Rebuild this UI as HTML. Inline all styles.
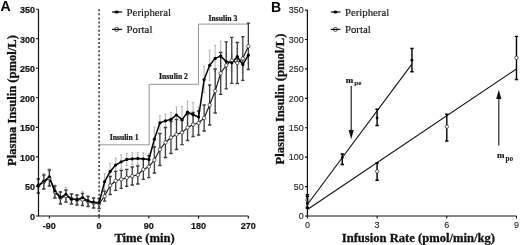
<!DOCTYPE html>
<html><head><meta charset="utf-8"><style>
html,body{margin:0;padding:0;background:#fff;}
body{width:520px;height:245px;overflow:hidden;font-family:"Liberation Sans",sans-serif;}
svg{display:block;will-change:transform;}
</style></head><body>
<svg width="520" height="245" viewBox="0 0 520 245">
<rect width="520" height="245" fill="#fff"/>
<polyline points="99.1,144.8 149.2,144.8 149.2,84.3 198.5,84.3 198.5,24.1 248,24.1" fill="none" stroke="#8a8a8a" stroke-width="0.9"/>
<line x1="99.1" y1="9.2" x2="99.1" y2="216" stroke="#111" stroke-width="1.3" stroke-dasharray="2 2.1"/>
<path d="M38.29 178.4V192.4M37.29 178.4H39.29M37.29 192.4H39.29" stroke="#a8a8a8" stroke-width="0.9" fill="none"/>
<path d="M43.82 173.3V189.3M42.82 173.3H44.82M42.82 189.3H44.82" stroke="#a8a8a8" stroke-width="0.9" fill="none"/>
<path d="M49.35 168.8V184.8M48.35 168.8H50.35M48.35 184.8H50.35" stroke="#a8a8a8" stroke-width="0.9" fill="none"/>
<path d="M54.88 185V197M53.88 185H55.88M53.88 197H55.88" stroke="#a8a8a8" stroke-width="0.9" fill="none"/>
<path d="M60.41 191.3V203.3M59.41 191.3H61.41M59.41 203.3H61.41" stroke="#a8a8a8" stroke-width="0.9" fill="none"/>
<path d="M65.93 187.3V201.3M64.93 187.3H66.93M64.93 201.3H66.93" stroke="#a8a8a8" stroke-width="0.9" fill="none"/>
<path d="M71.46 193.9V203.9M70.46 193.9H72.46M70.46 203.9H72.46" stroke="#a8a8a8" stroke-width="0.9" fill="none"/>
<path d="M76.99 194.6V204.6M75.99 194.6H77.99M75.99 204.6H77.99" stroke="#a8a8a8" stroke-width="0.9" fill="none"/>
<path d="M82.52 191.6V203.6M81.52 191.6H83.52M81.52 203.6H83.52" stroke="#a8a8a8" stroke-width="0.9" fill="none"/>
<path d="M88.04 195.9V205.9M87.04 195.9H89.04M87.04 205.9H89.04" stroke="#a8a8a8" stroke-width="0.9" fill="none"/>
<path d="M93.57 197.2V207.2M92.57 197.2H94.57M92.57 207.2H94.57" stroke="#a8a8a8" stroke-width="0.9" fill="none"/>
<path d="M99.1 197.8V207.8M98.1 197.8H100.1M98.1 207.8H100.1" stroke="#a8a8a8" stroke-width="0.9" fill="none"/>
<path d="M104.63 173.7V189.7M103.63 173.7H105.63M103.63 189.7H105.63" stroke="#a8a8a8" stroke-width="0.9" fill="none"/>
<path d="M110.16 163.4V179.4M109.16 163.4H111.16M109.16 179.4H111.16" stroke="#a8a8a8" stroke-width="0.9" fill="none"/>
<path d="M115.68 158V172M114.68 158H116.68M114.68 172H116.68" stroke="#a8a8a8" stroke-width="0.9" fill="none"/>
<path d="M121.21 154.8V168.8M120.21 154.8H122.21M120.21 168.8H122.21" stroke="#a8a8a8" stroke-width="0.9" fill="none"/>
<path d="M126.74 153.4V165.4M125.74 153.4H127.74M125.74 165.4H127.74" stroke="#a8a8a8" stroke-width="0.9" fill="none"/>
<path d="M132.27 152.8V164.8M131.27 152.8H133.27M131.27 164.8H133.27" stroke="#a8a8a8" stroke-width="0.9" fill="none"/>
<path d="M137.79 152.4V164.4M136.79 152.4H138.79M136.79 164.4H138.79" stroke="#a8a8a8" stroke-width="0.9" fill="none"/>
<path d="M143.32 152.8V164.8M142.32 152.8H144.32M142.32 164.8H144.32" stroke="#a8a8a8" stroke-width="0.9" fill="none"/>
<path d="M148.85 153.4V165.4M147.85 153.4H149.85M147.85 165.4H149.85" stroke="#a8a8a8" stroke-width="0.9" fill="none"/>
<path d="M154.38 127.2V151.2M153.38 127.2H155.38M153.38 151.2H155.38" stroke="#a8a8a8" stroke-width="0.9" fill="none"/>
<path d="M159.91 115.8V129.8M158.91 115.8H160.91M158.91 129.8H160.91" stroke="#a8a8a8" stroke-width="0.9" fill="none"/>
<path d="M165.43 113.9V127.9M164.43 113.9H166.43M164.43 127.9H166.43" stroke="#a8a8a8" stroke-width="0.9" fill="none"/>
<path d="M170.96 112.3V126.3M169.96 112.3H171.96M169.96 126.3H171.96" stroke="#a8a8a8" stroke-width="0.9" fill="none"/>
<path d="M176.49 107V123M175.49 107H177.49M175.49 123H177.49" stroke="#a8a8a8" stroke-width="0.9" fill="none"/>
<path d="M182.02 106.6V132.6M181.02 106.6H183.02M181.02 132.6H183.02" stroke="#a8a8a8" stroke-width="0.9" fill="none"/>
<path d="M187.54 101.2V123.2M186.54 101.2H188.54M186.54 123.2H188.54" stroke="#a8a8a8" stroke-width="0.9" fill="none"/>
<path d="M193.07 102.7V126.7M192.07 102.7H194.07M192.07 126.7H194.07" stroke="#a8a8a8" stroke-width="0.9" fill="none"/>
<path d="M198.6 107V127M197.6 107H199.6M197.6 127H199.6" stroke="#a8a8a8" stroke-width="0.9" fill="none"/>
<path d="M204.13 66.6V92.6M203.13 66.6H205.13M203.13 92.6H205.13" stroke="#a8a8a8" stroke-width="0.9" fill="none"/>
<path d="M209.66 50.3V80.3M208.66 50.3H210.66M208.66 80.3H210.66" stroke="#a8a8a8" stroke-width="0.9" fill="none"/>
<path d="M215.18 45.4V71.4M214.18 45.4H216.18M214.18 71.4H216.18" stroke="#a8a8a8" stroke-width="0.9" fill="none"/>
<path d="M220.71 41.1V71.1M219.71 41.1H221.71M219.71 71.1H221.71" stroke="#a8a8a8" stroke-width="0.9" fill="none"/>
<path d="M226.24 53.6V69.6M225.24 53.6H227.24M225.24 69.6H227.24" stroke="#a8a8a8" stroke-width="0.9" fill="none"/>
<path d="M231.77 54.8V70.8M230.77 54.8H232.77M230.77 70.8H232.77" stroke="#a8a8a8" stroke-width="0.9" fill="none"/>
<path d="M237.29 48.7V64.7M236.29 48.7H238.29M236.29 64.7H238.29" stroke="#a8a8a8" stroke-width="0.9" fill="none"/>
<path d="M242.82 56.6V72.6M241.82 56.6H243.82M241.82 72.6H243.82" stroke="#a8a8a8" stroke-width="0.9" fill="none"/>
<path d="M248.35 47.2V63.2M247.35 47.2H249.35M247.35 63.2H249.35" stroke="#a8a8a8" stroke-width="0.9" fill="none"/>
<path d="M38.29 179V193M36.59 179H39.99M36.59 193H39.99" stroke="#3c3c3c" stroke-width="1.3" fill="none"/>
<path d="M43.82 175V189M42.12 175H45.52M42.12 189H45.52" stroke="#3c3c3c" stroke-width="1.3" fill="none"/>
<path d="M49.35 170V186M47.65 170H51.05M47.65 186H51.05" stroke="#3c3c3c" stroke-width="1.3" fill="none"/>
<path d="M54.88 186V198M53.18 186H56.58M53.18 198H56.58" stroke="#3c3c3c" stroke-width="1.3" fill="none"/>
<path d="M60.41 192V204M58.71 192H62.11M58.71 204H62.11" stroke="#3c3c3c" stroke-width="1.3" fill="none"/>
<path d="M65.93 190V202M64.23 190H67.63M64.23 202H67.63" stroke="#3c3c3c" stroke-width="1.3" fill="none"/>
<path d="M71.46 194V204M69.76 194H73.16M69.76 204H73.16" stroke="#3c3c3c" stroke-width="1.3" fill="none"/>
<path d="M76.99 195V205M75.29 195H78.69M75.29 205H78.69" stroke="#3c3c3c" stroke-width="1.3" fill="none"/>
<path d="M82.52 193.5V205.5M80.82 193.5H84.22M80.82 205.5H84.22" stroke="#3c3c3c" stroke-width="1.3" fill="none"/>
<path d="M88.04 196.5V206.5M86.34 196.5H89.74M86.34 206.5H89.74" stroke="#3c3c3c" stroke-width="1.3" fill="none"/>
<path d="M93.57 198V208M91.87 198H95.27M91.87 208H95.27" stroke="#3c3c3c" stroke-width="1.3" fill="none"/>
<path d="M99.1 198.5V208.5M97.4 198.5H100.8M97.4 208.5H100.8" stroke="#3c3c3c" stroke-width="1.3" fill="none"/>
<path d="M104.63 191.2V201.2M102.93 191.2H106.33M102.93 201.2H106.33" stroke="#3c3c3c" stroke-width="1.3" fill="none"/>
<path d="M110.16 176.5V194.5M108.46 176.5H111.86M108.46 194.5H111.86" stroke="#3c3c3c" stroke-width="1.3" fill="none"/>
<path d="M115.68 171.3V190.3M113.98 171.3H117.38M113.98 190.3H117.38" stroke="#3c3c3c" stroke-width="1.3" fill="none"/>
<path d="M121.21 170.3V188.3M119.51 170.3H122.91M119.51 188.3H122.91" stroke="#3c3c3c" stroke-width="1.3" fill="none"/>
<path d="M126.74 169.3V186.3M125.04 169.3H128.44M125.04 186.3H128.44" stroke="#3c3c3c" stroke-width="1.3" fill="none"/>
<path d="M132.27 167V185M130.57 167H133.97M130.57 185H133.97" stroke="#3c3c3c" stroke-width="1.3" fill="none"/>
<path d="M137.79 166V184M136.09 166H139.49M136.09 184H139.49" stroke="#3c3c3c" stroke-width="1.3" fill="none"/>
<path d="M143.32 159.4V179.4M141.62 159.4H145.02M141.62 179.4H145.02" stroke="#3c3c3c" stroke-width="1.3" fill="none"/>
<path d="M148.85 155.7V177.7M147.15 155.7H150.55M147.15 177.7H150.55" stroke="#3c3c3c" stroke-width="1.3" fill="none"/>
<path d="M154.38 147V173M152.68 147H156.08M152.68 173H156.08" stroke="#3c3c3c" stroke-width="1.3" fill="none"/>
<path d="M159.91 133.5V165.5M158.21 133.5H161.61M158.21 165.5H161.61" stroke="#3c3c3c" stroke-width="1.3" fill="none"/>
<path d="M165.43 127.5V157.5M163.73 127.5H167.13M163.73 157.5H167.13" stroke="#3c3c3c" stroke-width="1.3" fill="none"/>
<path d="M170.96 121.5V153.5M169.26 121.5H172.66M169.26 153.5H172.66" stroke="#3c3c3c" stroke-width="1.3" fill="none"/>
<path d="M176.49 119.5V149.5M174.79 119.5H178.19M174.79 149.5H178.19" stroke="#3c3c3c" stroke-width="1.3" fill="none"/>
<path d="M182.02 120.6V144.6M180.32 120.6H183.72M180.32 144.6H183.72" stroke="#3c3c3c" stroke-width="1.3" fill="none"/>
<path d="M187.54 114.5V140.5M185.84 114.5H189.24M185.84 140.5H189.24" stroke="#3c3c3c" stroke-width="1.3" fill="none"/>
<path d="M193.07 112.5V136.5M191.37 112.5H194.77M191.37 136.5H194.77" stroke="#3c3c3c" stroke-width="1.3" fill="none"/>
<path d="M198.6 111V135M196.9 111H200.3M196.9 135H200.3" stroke="#3c3c3c" stroke-width="1.3" fill="none"/>
<path d="M204.13 105V131M202.43 105H205.83M202.43 131H205.83" stroke="#3c3c3c" stroke-width="1.3" fill="none"/>
<path d="M209.66 85V125M207.96 85H211.36M207.96 125H211.36" stroke="#3c3c3c" stroke-width="1.3" fill="none"/>
<path d="M215.18 69V113M213.48 69H216.88M213.48 113H216.88" stroke="#3c3c3c" stroke-width="1.3" fill="none"/>
<path d="M220.71 52.3V94.3M219.01 52.3H222.41M219.01 94.3H222.41" stroke="#3c3c3c" stroke-width="1.3" fill="none"/>
<path d="M226.24 41.8V88.8M224.54 41.8H227.94M224.54 88.8H227.94" stroke="#3c3c3c" stroke-width="1.3" fill="none"/>
<path d="M231.77 37.4V83.4M230.07 37.4H233.47M230.07 83.4H233.47" stroke="#3c3c3c" stroke-width="1.3" fill="none"/>
<path d="M237.29 42.5V83.5M235.59 42.5H238.99M235.59 83.5H238.99" stroke="#3c3c3c" stroke-width="1.3" fill="none"/>
<path d="M242.82 36.7V80.3M241.12 36.7H244.52M241.12 80.3H244.52" stroke="#3c3c3c" stroke-width="1.3" fill="none"/>
<path d="M248.35 23.1V69.5M246.65 23.1H250.05M246.65 69.5H250.05" stroke="#3c3c3c" stroke-width="1.3" fill="none"/>
<polyline points="38.29,186 43.82,182 49.35,178 54.88,192 60.41,198 65.93,196 71.46,199 76.99,200 82.52,199.5 88.04,201.5 93.57,203 99.1,203.5 104.63,196.2 110.16,185.5 115.68,180.8 121.21,179.3 126.74,177.8 132.27,176 137.79,175 143.32,169.4 148.85,166.7 154.38,160 159.91,149.5 165.43,142.5 170.96,137.5 176.49,134.5 182.02,132.6 187.54,127.5 193.07,124.5 198.6,123 204.13,118 209.66,105 215.18,91 220.71,73.3 226.24,65.3 231.77,60.4 237.29,63 242.82,58.5 248.35,46.3" fill="none" stroke="#111" stroke-width="1.1"/>
<polyline points="38.29,185.4 43.82,181.3 49.35,176.8 54.88,191 60.41,197.3 65.93,194.3 71.46,198.9 76.99,199.6 82.52,197.6 88.04,200.9 93.57,202.2 99.1,202.8 104.63,181.7 110.16,171.4 115.68,165 121.21,161.8 126.74,159.4 132.27,158.8 137.79,158.4 143.32,158.8 148.85,159.4 154.38,139.2 159.91,122.8 165.43,120.9 170.96,119.3 176.49,115 182.02,119.6 187.54,112.2 193.07,114.7 198.6,117 204.13,79.6 209.66,65.3 215.18,58.4 220.71,56.1 226.24,61.6 231.77,62.8 237.29,56.7 242.82,64.6 248.35,55.2" fill="none" stroke="#000" stroke-width="1.5"/>
<circle cx="38.29" cy="186" r="1.7" fill="#fff" stroke="#222" stroke-width="0.7"/>
<circle cx="43.82" cy="182" r="1.7" fill="#fff" stroke="#222" stroke-width="0.7"/>
<circle cx="49.35" cy="178" r="1.7" fill="#fff" stroke="#222" stroke-width="0.7"/>
<circle cx="54.88" cy="192" r="1.7" fill="#fff" stroke="#222" stroke-width="0.7"/>
<circle cx="60.41" cy="198" r="1.7" fill="#fff" stroke="#222" stroke-width="0.7"/>
<circle cx="65.93" cy="196" r="1.7" fill="#fff" stroke="#222" stroke-width="0.7"/>
<circle cx="71.46" cy="199" r="1.7" fill="#fff" stroke="#222" stroke-width="0.7"/>
<circle cx="76.99" cy="200" r="1.7" fill="#fff" stroke="#222" stroke-width="0.7"/>
<circle cx="82.52" cy="199.5" r="1.7" fill="#fff" stroke="#222" stroke-width="0.7"/>
<circle cx="88.04" cy="201.5" r="1.7" fill="#fff" stroke="#222" stroke-width="0.7"/>
<circle cx="93.57" cy="203" r="1.7" fill="#fff" stroke="#222" stroke-width="0.7"/>
<circle cx="99.1" cy="203.5" r="1.7" fill="#fff" stroke="#222" stroke-width="0.7"/>
<circle cx="104.63" cy="196.2" r="1.7" fill="#fff" stroke="#222" stroke-width="0.7"/>
<circle cx="110.16" cy="185.5" r="1.7" fill="#fff" stroke="#222" stroke-width="0.7"/>
<circle cx="115.68" cy="180.8" r="1.7" fill="#fff" stroke="#222" stroke-width="0.7"/>
<circle cx="121.21" cy="179.3" r="1.7" fill="#fff" stroke="#222" stroke-width="0.7"/>
<circle cx="126.74" cy="177.8" r="1.7" fill="#fff" stroke="#222" stroke-width="0.7"/>
<circle cx="132.27" cy="176" r="1.7" fill="#fff" stroke="#222" stroke-width="0.7"/>
<circle cx="137.79" cy="175" r="1.7" fill="#fff" stroke="#222" stroke-width="0.7"/>
<circle cx="143.32" cy="169.4" r="1.7" fill="#fff" stroke="#222" stroke-width="0.7"/>
<circle cx="148.85" cy="166.7" r="1.7" fill="#fff" stroke="#222" stroke-width="0.7"/>
<circle cx="154.38" cy="160" r="1.7" fill="#fff" stroke="#222" stroke-width="0.7"/>
<circle cx="159.91" cy="149.5" r="1.7" fill="#fff" stroke="#222" stroke-width="0.7"/>
<circle cx="165.43" cy="142.5" r="1.7" fill="#fff" stroke="#222" stroke-width="0.7"/>
<circle cx="170.96" cy="137.5" r="1.7" fill="#fff" stroke="#222" stroke-width="0.7"/>
<circle cx="176.49" cy="134.5" r="1.7" fill="#fff" stroke="#222" stroke-width="0.7"/>
<circle cx="182.02" cy="132.6" r="1.7" fill="#fff" stroke="#222" stroke-width="0.7"/>
<circle cx="187.54" cy="127.5" r="1.7" fill="#fff" stroke="#222" stroke-width="0.7"/>
<circle cx="193.07" cy="124.5" r="1.7" fill="#fff" stroke="#222" stroke-width="0.7"/>
<circle cx="198.6" cy="123" r="1.7" fill="#fff" stroke="#222" stroke-width="0.7"/>
<circle cx="204.13" cy="118" r="1.7" fill="#fff" stroke="#222" stroke-width="0.7"/>
<circle cx="209.66" cy="105" r="1.7" fill="#fff" stroke="#222" stroke-width="0.7"/>
<circle cx="215.18" cy="91" r="1.7" fill="#fff" stroke="#222" stroke-width="0.7"/>
<circle cx="220.71" cy="73.3" r="1.7" fill="#fff" stroke="#222" stroke-width="0.7"/>
<circle cx="226.24" cy="65.3" r="1.7" fill="#fff" stroke="#222" stroke-width="0.7"/>
<circle cx="231.77" cy="60.4" r="1.7" fill="#fff" stroke="#222" stroke-width="0.7"/>
<circle cx="237.29" cy="63" r="1.7" fill="#fff" stroke="#222" stroke-width="0.7"/>
<circle cx="242.82" cy="58.5" r="1.7" fill="#fff" stroke="#222" stroke-width="0.7"/>
<circle cx="248.35" cy="46.3" r="1.7" fill="#fff" stroke="#222" stroke-width="0.7"/>
<circle cx="38.29" cy="185.4" r="1.6" fill="#000"/>
<circle cx="43.82" cy="181.3" r="1.6" fill="#000"/>
<circle cx="49.35" cy="176.8" r="1.6" fill="#000"/>
<circle cx="54.88" cy="191" r="1.6" fill="#000"/>
<circle cx="60.41" cy="197.3" r="1.6" fill="#000"/>
<circle cx="65.93" cy="194.3" r="1.6" fill="#000"/>
<circle cx="71.46" cy="198.9" r="1.6" fill="#000"/>
<circle cx="76.99" cy="199.6" r="1.6" fill="#000"/>
<circle cx="82.52" cy="197.6" r="1.6" fill="#000"/>
<circle cx="88.04" cy="200.9" r="1.6" fill="#000"/>
<circle cx="93.57" cy="202.2" r="1.6" fill="#000"/>
<circle cx="99.1" cy="202.8" r="1.6" fill="#000"/>
<circle cx="104.63" cy="181.7" r="1.6" fill="#000"/>
<circle cx="110.16" cy="171.4" r="1.6" fill="#000"/>
<circle cx="115.68" cy="165" r="1.6" fill="#000"/>
<circle cx="121.21" cy="161.8" r="1.6" fill="#000"/>
<circle cx="126.74" cy="159.4" r="1.6" fill="#000"/>
<circle cx="132.27" cy="158.8" r="1.6" fill="#000"/>
<circle cx="137.79" cy="158.4" r="1.6" fill="#000"/>
<circle cx="143.32" cy="158.8" r="1.6" fill="#000"/>
<circle cx="148.85" cy="159.4" r="1.6" fill="#000"/>
<circle cx="154.38" cy="139.2" r="1.6" fill="#000"/>
<circle cx="159.91" cy="122.8" r="1.6" fill="#000"/>
<circle cx="165.43" cy="120.9" r="1.6" fill="#000"/>
<circle cx="170.96" cy="119.3" r="1.6" fill="#000"/>
<circle cx="176.49" cy="115" r="1.6" fill="#000"/>
<circle cx="182.02" cy="119.6" r="1.6" fill="#000"/>
<circle cx="187.54" cy="112.2" r="1.6" fill="#000"/>
<circle cx="193.07" cy="114.7" r="1.6" fill="#000"/>
<circle cx="198.6" cy="117" r="1.6" fill="#000"/>
<circle cx="204.13" cy="79.6" r="1.6" fill="#000"/>
<circle cx="209.66" cy="65.3" r="1.6" fill="#000"/>
<circle cx="215.18" cy="58.4" r="1.6" fill="#000"/>
<circle cx="220.71" cy="56.1" r="1.6" fill="#000"/>
<circle cx="226.24" cy="61.6" r="1.6" fill="#000"/>
<circle cx="231.77" cy="62.8" r="1.6" fill="#000"/>
<circle cx="237.29" cy="56.7" r="1.6" fill="#000"/>
<circle cx="242.82" cy="64.6" r="1.6" fill="#000"/>
<circle cx="248.35" cy="55.2" r="1.6" fill="#000"/>
<path d="M38.5 9.2V216H248.4" fill="none" stroke="#111" stroke-width="1.2"/>
<path d="M36 216H38.5M36 186.46H38.5M36 156.91H38.5M36 127.37H38.5M36 97.82H38.5M36 68.28H38.5M36 38.73H38.5M36 9.19H38.5M49.35 216V218.6M99.1 216V218.6M148.85 216V218.6M198.6 216V218.6M248.35 216V218.6" stroke="#111" stroke-width="1.1" fill="none"/>
<g font-family="Liberation Sans, sans-serif" font-weight="bold" font-size="9" fill="#111" stroke="#111" stroke-width="0.2">
<text x="35" y="219.8" text-anchor="end">0</text>
<text x="35" y="190.26" text-anchor="end">50</text>
<text x="35" y="160.71" text-anchor="end">100</text>
<text x="35" y="131.17" text-anchor="end">150</text>
<text x="35" y="101.62" text-anchor="end">200</text>
<text x="35" y="72.08" text-anchor="end">250</text>
<text x="35" y="42.53" text-anchor="end">300</text>
<text x="35" y="12.99" text-anchor="end">350</text>
<text x="49.35" y="228.9" text-anchor="middle">-90</text>
<text x="99.1" y="228.9" text-anchor="middle">0</text>
<text x="148.85" y="228.9" text-anchor="middle">90</text>
<text x="198.6" y="228.9" text-anchor="middle">180</text>
<text x="248.35" y="228.9" text-anchor="middle">270</text>
</g>
<text x="0.4" y="11" font-family="Liberation Sans, sans-serif" font-weight="bold" font-size="14" fill="#000">A</text>
<line x1="112" y1="12" x2="122.2" y2="12" stroke="#111" stroke-width="1.2"/><ellipse cx="116.6" cy="12" rx="2.2" ry="1.6" fill="#000"/>
<line x1="112" y1="29.4" x2="122.2" y2="29.4" stroke="#111" stroke-width="1.2"/><circle cx="116.6" cy="29.4" r="2" fill="none" stroke="#222" stroke-width="0.8"/>
<g font-family="Liberation Serif, serif" font-size="10.8" fill="#111" stroke="#111" stroke-width="0.15">
<text x="126.6" y="15.7">Peripheral</text><text x="126.6" y="32.6">Portal</text>
</g>
<g font-family="Liberation Serif, serif" font-weight="bold" font-size="7.7" fill="#111" stroke="#111" stroke-width="0.2">
<text x="109.7" y="140">Insulin 1</text><text x="159.1" y="78.8">Insulin 2</text><text x="208.5" y="21.4">Insulin 3</text>
</g>
<g font-family="Liberation Serif, serif" font-weight="bold" font-size="12.6" fill="#111" stroke="#111" stroke-width="0.3">
<text x="144.6" y="241.6" text-anchor="middle">Time (min)</text>
<text transform="translate(15.6 100.5) rotate(-90)" text-anchor="middle">Plasma Insulin (pmol/L)</text>
<text x="418.4" y="241.6" text-anchor="middle">Infusion Rate (pmol/min/kg)</text>
<text transform="translate(284.2 99) rotate(-90)" text-anchor="middle">Plasma Insulin (pmol/L)</text>
</g>
<text x="270.9" y="11.6" font-family="Liberation Sans, sans-serif" font-weight="bold" font-size="14" fill="#000">B</text>
<line x1="307.4" y1="204.5" x2="411.5" y2="64.6" stroke="#111" stroke-width="1.1"/>
<line x1="307.4" y1="209.5" x2="516.7" y2="68.8" stroke="#111" stroke-width="1.1"/>
<path d="M307.4 196.5V207.5M305.7 196.5H309.1M305.7 207.5H309.1" stroke="#000" stroke-width="1.4" fill="none"/>
<path d="M342.25 154V164.5M340.55 154H343.94M340.55 164.5H343.94" stroke="#000" stroke-width="1.4" fill="none"/>
<path d="M377.09 109.2V125.5M375.39 109.2H378.79M375.39 125.5H378.79" stroke="#000" stroke-width="1.4" fill="none"/>
<path d="M411.93 48.5V71.8M410.23 48.5H413.63M410.23 71.8H413.63" stroke="#000" stroke-width="1.4" fill="none"/>
<path d="M307.4 194.8V208.4M305.7 194.8H309.1M305.7 208.4H309.1" stroke="#000" stroke-width="1.4" fill="none"/>
<path d="M377.09 163V180.2M375.39 163H378.79M375.39 180.2H378.79" stroke="#000" stroke-width="1.4" fill="none"/>
<path d="M446.78 114.2V141M445.08 114.2H448.48M445.08 141H448.48" stroke="#000" stroke-width="1.4" fill="none"/>
<path d="M516.47 36.4V79.5M514.77 36.4H518.17M514.77 79.5H518.17" stroke="#000" stroke-width="1.4" fill="none"/>
<circle cx="307.4" cy="200" r="1.7" fill="#fff" stroke="#222" stroke-width="0.7"/>
<circle cx="377.09" cy="171.4" r="1.7" fill="#fff" stroke="#222" stroke-width="0.7"/>
<circle cx="446.78" cy="126.7" r="1.7" fill="#fff" stroke="#222" stroke-width="0.7"/>
<circle cx="516.47" cy="57.8" r="1.7" fill="#fff" stroke="#222" stroke-width="0.7"/>
<circle cx="307.4" cy="203.5" r="1.4" fill="#000"/>
<circle cx="342.25" cy="157.6" r="1.4" fill="#000"/>
<circle cx="377.09" cy="118" r="1.4" fill="#000"/>
<circle cx="411.93" cy="60.2" r="1.4" fill="#000"/>
<path d="M307.4 10.1V216H516.6" fill="none" stroke="#111" stroke-width="1.2"/>
<path d="M305 216H307.4M305 186.59H307.4M305 157.17H307.4M305 127.75H307.4M305 98.34H307.4M305 68.92H307.4M305 39.51H307.4M305 10.09H307.4M307.4 216V218.6M377.09 216V218.6M446.78 216V218.6M516.47 216V218.6" stroke="#111" stroke-width="1.1" fill="none"/>
<g font-family="Liberation Sans, sans-serif" font-size="9" fill="#1a1a1a" stroke="#1a1a1a" stroke-width="0.1">
<text x="303.8" y="219.3" text-anchor="end">0</text>
<text x="303.8" y="189.89" text-anchor="end">50</text>
<text x="303.8" y="160.47" text-anchor="end">100</text>
<text x="303.8" y="131.06" text-anchor="end">150</text>
<text x="303.8" y="101.64" text-anchor="end">200</text>
<text x="303.8" y="72.22" text-anchor="end">250</text>
<text x="303.8" y="42.81" text-anchor="end">300</text>
<text x="303.8" y="13.39" text-anchor="end">350</text>
<text x="307.4" y="227.8" text-anchor="middle">0</text>
<text x="377.09" y="227.8" text-anchor="middle">3</text>
<text x="446.78" y="227.8" text-anchor="middle">6</text>
<text x="516.47" y="227.8" text-anchor="middle">9</text>
</g>
<line x1="330.8" y1="12" x2="340.4" y2="12" stroke="#111" stroke-width="1.2"/><ellipse cx="335.4" cy="12" rx="2" ry="1.5" fill="#000"/>
<line x1="330.8" y1="29.4" x2="340.4" y2="29.4" stroke="#111" stroke-width="1.2"/><circle cx="335.4" cy="29.4" r="2" fill="none" stroke="#222" stroke-width="0.8"/>
<g font-family="Liberation Serif, serif" font-size="10.8" fill="#111" stroke="#111" stroke-width="0.15">
<text x="344.9" y="15.7">Peripheral</text><text x="344.9" y="32.6">Portal</text>
</g>
<line x1="351.2" y1="86" x2="351.2" y2="131" stroke="#111" stroke-width="1.1"/><path d="M348.6 130L351.2 139.2L353.8 130Z" fill="#111"/>
<line x1="498.8" y1="145.4" x2="498.8" y2="98" stroke="#111" stroke-width="1.1"/><path d="M496.2 99L498.8 89.8L501.4 99Z" fill="#111"/>
<g font-family="Liberation Serif, serif" font-weight="bold" fill="#111" stroke="#111" stroke-width="0.2">
<text x="345.8" y="82.9" font-size="9">m<tspan font-size="7.1" dx="0.9" dy="2.5" stroke-width="0.05">pe</tspan></text>
<text x="497" y="158.1" font-size="9">m<tspan font-size="7.2" dx="1" dy="2.4" stroke-width="0.05">po</tspan></text>
</g>
</svg>
</body></html>
